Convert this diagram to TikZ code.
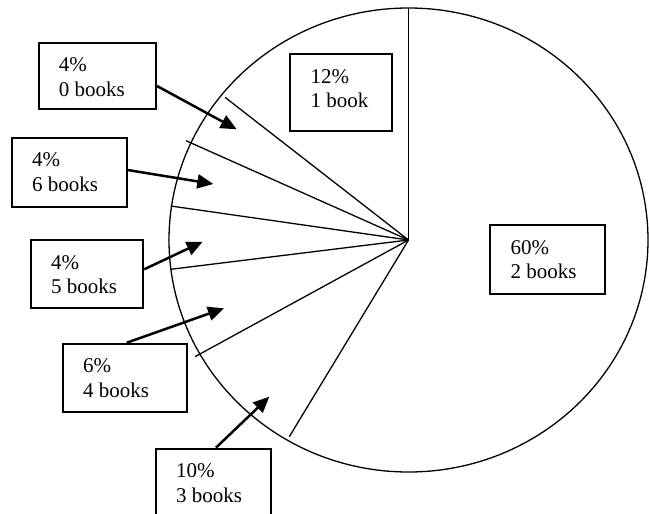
\documentclass[tikz,border=0pt]{standalone}
\usepackage{fontspec}
\setmainfont{Liberation Serif}
\usetikzlibrary{arrows.meta}
\begin{document}
\begin{tikzpicture}[x=1pt,y=-1pt,>={Triangle[length=16pt,width=14pt]},
	bx/.style={draw,line width=1.9pt,inner sep=0pt,anchor=north west},
	lbl/.style={inner sep=0pt,anchor=base west,align=left,font=\fontsize{21}{24.5}\selectfont},
	arr/.style={->,line width=2.5pt}]
			\useasboundingbox (0,0) rectangle (649,514);
			% pie
			\coordinate (ctr) at (408.5,240);
			\draw[line width=1.3pt] (ctr) ellipse [x radius=239.5,y radius=232];
			\draw[line width=1.4pt] (ctr)--(408.5,8);
			\draw[line width=1.3pt] (ctr)--(225,97.3);
			\draw[line width=1.3pt] (ctr)--(186,140.7);
			\draw[line width=1.3pt] (ctr)--(170.7,206);
			\draw[line width=1.3pt] (ctr)--(170.7,269.3);
			\draw[line width=1.3pt] (ctr)--(195,356.7);
			\draw[line width=1.3pt] (ctr)--(289.3,436.7);
			% boxes
			\node[bx,minimum width=101.7pt,minimum height=76.7pt] (b1) at (289.3,53.3) {};
			\node[bx,minimum width=114.7pt,minimum height=69.3pt] (b2) at (489.3,224) {};
			\node[bx,minimum width=117.3pt,minimum height=66.6pt] (b0) at (37.7,41.7) {};
			\node[bx,minimum width=114.7pt,minimum height=69.3pt] (b6) at (11,136.7) {};
			\node[bx,minimum width=112.3pt,minimum height=67.7pt] (b5) at (30,239) {};
			\node[bx,minimum width=123.7pt,minimum height=68pt] (b4) at (62,342.7) {};
			\node[bx,minimum width=115pt,minimum height=70pt] (b3) at (155,447.7) {};
			\node[lbl] (t1) at ([shift={(21pt,-54.5pt)}]b1.north west) {12\%\\1 book};
			\node[lbl] (t2) at ([shift={(21pt,-54.5pt)}]b2.north west) {60\%\\2 books};
			\node[lbl] (t0) at ([shift={(21pt,-54.5pt)}]b0.north west) {4\%\\0 books};
			\node[lbl] (t6) at ([shift={(21pt,-54.5pt)}]b6.north west) {4\%\\6 books};
			\node[lbl] (t5) at ([shift={(21pt,-54.5pt)}]b5.north west) {4\%\\5 books};
			\node[lbl] (t4) at ([shift={(21pt,-54.5pt)}]b4.north west) {6\%\\4 books};
			\node[lbl] (t3) at ([shift={(21pt,-54.5pt)}]b3.north west) {10\%\\3 books};
			% arrows
			\coordinate (a0) at (236.7,129.3);
			\coordinate (a6) at (213.3,184);
			\coordinate (a5) at (202.7,241.7);
			\coordinate (a4) at (224,308.3);
			\coordinate (a3) at (269.3,396.7);
			\draw[arr] ([yshift=-10pt]b0.east)--(a0);
			\draw[arr] ([yshift=2.3pt]b6.east)--(a6);
			\draw[arr] ([yshift=4.5pt]b5.east)--(a5);
			\draw[arr] ([xshift=2pt]b4.north)--(a4);
			\draw[arr] ([xshift=2.5pt]b3.north)--(a3);
\end{tikzpicture}
\end{document}
